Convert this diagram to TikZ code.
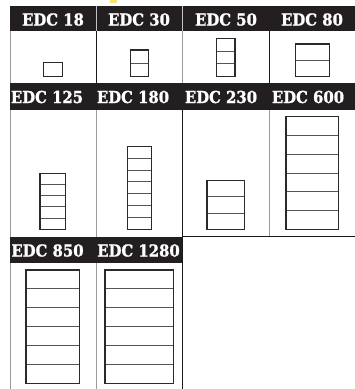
\documentclass[tikz,border=0pt]{standalone}
\usepackage{fontspec}
\newfontfamily\hdrfont[FakeBold=1.3]{DejaVu Serif Bold}
\definecolor{hdrgray}{HTML}{231F20}
\definecolor{boxdark}{HTML}{2A2A2A}
\definecolor{boxgray}{HTML}{555555}
\definecolor{gridlight}{HTML}{9A9A9A}
\definecolor{blobyellow}{HTML}{F5E27A}
\newcommand\stk[5]{%
  \pgfmathsetmacro\stkh{(#4-#2)/#5}%
  \pgfmathtruncatemacro\stkm{#5-1}%
  \ifnum\stkm>0
    \foreach \k in {1,...,\stkm}{\draw[innerline] (#1,{#2+\k*\stkh}) -- (#3,{#2+\k*\stkh});}%
  \fi
  \draw[outerline] (#1,#2) rectangle (#3,#4);}
\newcommand\hdr[1]{\scalebox{0.9}[1]{#1}}
\begin{document}
\begin{tikzpicture}[x=1pt,y=-1pt,
  hdrbar/.style={fill=hdrgray},
  hdrtext/.style={text=white, font=\hdrfont\fontsize{16.5}{16.5}\selectfont, inner sep=0pt, anchor=center},
  outerline/.style={draw=boxdark, line width=1.3pt},
  innerline/.style={draw=boxgray, line width=0.9pt},
  griddark/.style={draw=black!90, line width=0.8pt},
  gridlt/.style={draw=gridlight, line width=0.9pt}]
\useasboundingbox (0,0) rectangle (355,389);
\fill[white] (0,0) rectangle (355,389);
\fill[blobyellow] (110,0) rectangle (117,2.5);
% grid lines
\draw[gridlt] (10,31) -- (10,83);
\draw[griddark] (96,31) -- (96,83);
\draw[gridlt] (182,31) -- (182,83);
\draw[griddark] (269,31) -- (269,83);
\draw[gridlt] (10,110) -- (10,237);
\draw[gridlt] (96,110) -- (96,237);
\draw[griddark] (182,110) -- (182,237);
\draw[gridlt] (269,110) -- (269,236);
\draw[griddark] (182,236) -- (355,236);
\draw[gridlt] (10,263) -- (10,389);
\draw[gridlt] (96,263) -- (96,389);
\draw[griddark] (182,236) -- (182,389);
% header bars
\fill[hdrbar] (10,6) rectangle (355,31);
\draw[gridlight!60, line width=0.6pt] (96,6) -- (96,31);
\draw[gridlight!60, line width=0.6pt] (182,6) -- (182,31);
\fill[hdrbar] (10,83) rectangle (355,110);
\fill[hdrbar] (10,237) rectangle (182,263);
% header texts
\node[hdrtext] (t18) at (53,19.5) {\hdr{EDC 18}};
\node[hdrtext] (t30) at (139,19.5) {\hdr{EDC 30}};
\node[hdrtext] (t50) at (226,19.5) {\hdr{EDC 50}};
\node[hdrtext] (t80) at (312,19.5) {\hdr{EDC 80}};
\node[hdrtext] (t125) at (47,97) {\hdr{EDC 125}};
\node[hdrtext] (t180) at (133,97) {\hdr{EDC 180}};
\node[hdrtext] (t230) at (221,97) {\hdr{EDC 230}};
\node[hdrtext] (t600) at (308,97) {\hdr{EDC 600}};
\node[hdrtext] (t850) at (47.5,250.5) {\hdr{EDC 850}};
\node[hdrtext] (t1280) at (138.5,250.5) {\hdr{EDC 1280}};
% stacks
\stk{43.3}{62.7}{62.7}{76.7}{1}
\stk{130.7}{50}{148.7}{76.3}{2}
\stk{216.7}{38.3}{235}{76.7}{3}
\stk{295.7}{44}{329.3}{76.3}{2}
\stk{40}{173.3}{65.7}{229.3}{5}
\stk{127.3}{146.3}{151.3}{229.3}{7}
\stk{207}{180.7}{244.7}{229.3}{3}
\stk{286}{116.7}{338.7}{229.3}{6}
\stk{26}{270}{79.3}{383.3}{6}
\stk{105}{270}{173.3}{383.3}{6}
\end{tikzpicture}
\end{document}
